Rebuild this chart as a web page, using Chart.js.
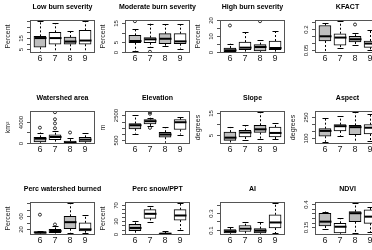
<!DOCTYPE html>
<html>
<head>
<meta charset="utf-8">
<script src="https://cdn.jsdelivr.net/npm/chart.js@4"></script>
<style>
  body { margin: 0; width: 372px; height: 250px; overflow: hidden; background: #fff; position: relative; }
  canvas { position: absolute; }
</style>
</head>
<body>
<script>
// ----- Data: [lower whisker, Q1, median, Q3, upper whisker] per year -----
const years = [6, 7, 8, 9];

const lowBurn     = [[2.8, 6.8, 15, 16.5, 30], [2.8, 9.5, 15, 20.1, 28], [2.8, 9.5, 11.9, 15.9, 21], [2.8, 9.5, 12.8, 21.9, 30]];
const lowBurnOut  = [[], [], [], []];
const modBurn     = [[0.4, 4.8, 5.7, 8.7, 12.2], [2.5, 4.8, 6.6, 7.5, 14.8], [2.9, 4.3, 6.9, 9.6, 14.5], [1.7, 4.3, 5.5, 9.6, 14.5]];
const modBurnOut  = [[16.2], [0], [], []];
const highBurn    = [[0, 0, 0.9, 2.4, 5.1], [0, 1.4, 2.6, 6.1, 12.4], [0, 0.5, 3, 4.5, 7.2], [0, 1.4, 2.4, 6.8, 13.4]];
const highBurnOut = [[16.6], [], [19.3], []];
const kfact       = [[0.038, 0.114, 0.147, 0.223, 0.239], [0.062, 0.085, 0.138, 0.165, 0.253], [0.085, 0.107, 0.126, 0.147, 0.17], [0.05, 0.069, 0.096, 0.114, 0.188]];
const kfactOut    = [[], [], [0.23], []];

const area        = [[0, 184, 790, 1030, 1950], [0, 600, 1100, 1530, 2260], [0, 0, 55, 300, 920], [0, 184, 600, 1030, 1840]];
const areaOut     = [[2870], [2760, 3680, 4470, 5810], [1950], []];
const elev        = [[1053, 1424, 1710, 1843, 2500], [1630, 1819, 2025, 2159, 2293], [318, 761, 974, 1156, 1551], [974, 1369, 1946, 2159, 2340]];
const elevOut     = [[], [2740, 2620, 1500], [], []];
const slope       = [[1.2, 2.3, 3.6, 6.2, 8.6], [2.3, 3.9, 6, 7, 9.4], [2.8, 6, 7.5, 9.4, 15.5], [3, 3.9, 5.8, 8.6, 10.5]];
const slopeOut    = [[], [], [], []];
const aspect      = [[71, 111, 149, 165, 243], [115, 149, 183, 194, 255], [64, 122, 176, 189, 283], [80, 127, 172, 194, 270]];
const aspectOut   = [[], [], [], []];

const burned      = [[6.5, 8, 10, 13, 14], [7, 10, 15, 20, 30], [8, 22, 42, 60, 100], [10, 15, 20, 40, 65]];
const burnedOut   = [[65], [35], [], []];
const snow        = [[0, 7.3, 14, 22.6, 31], [29, 37, 48, 58, 66.7], [0, 0, 0.3, 1.3, 7.3], [10, 33, 44, 58, 73.5]];
const snowOut     = [[], [], [], []];
const ai          = [[0.05, 0.06, 0.08, 0.1, 0.128], [0.052, 0.08, 0.112, 0.148, 0.187], [0.05, 0.06, 0.088, 0.112, 0.187], [0.06, 0.12, 0.187, 0.28, 0.42]];
const aiOut       = [[], [], [], []];
const ndvi        = [[0.128, 0.164, 0.211, 0.302, 0.32], [0.08, 0.09, 0.156, 0.193, 0.248], [0.085, 0.21, 0.302, 0.32, 0.41], [0.1, 0.193, 0.265, 0.338, 0.37]];
const ndviOut     = [[], [], [], []];

const panels = [
  { title: 'Low burn severity',      ylab: 'Percent', stats: lowBurn,  out: lowBurnOut,  ticks: [5, 10, 15, 20, 25, 30], labels: [5, 15] },
  { title: 'Moderate burn severity', ylab: 'Percent', stats: modBurn,  out: modBurnOut,  ticks: [0, 5, 10, 15], labels: [0, 5, 15] },
  { title: 'High burn severity',     ylab: 'Percent', stats: highBurn, out: highBurnOut, ticks: [0, 5, 10, 15, 20], labels: [0, 10, 20] },
  { title: 'KFACT',                  ylab: '',        stats: kfact,    out: kfactOut,    ticks: [0.05, 0.1, 0.15, 0.2, 0.25], labels: [0.05, 0.2] },
  { title: 'Watershed area',         ylab: 'km²',     stats: area,     out: areaOut,     ticks: [0, 2000, 4000], labels: [0, 4000] },
  { title: 'Elevation',              ylab: 'm',       stats: elev,     out: elevOut,     ticks: [500, 1000, 1500, 2000, 2500], labels: [500, 2500] },
  { title: 'Slope',                  ylab: 'degrees', stats: slope,    out: slopeOut,    ticks: [5, 10, 15], labels: [5, 15] },
  { title: 'Aspect',                 ylab: 'degrees', stats: aspect,   out: aspectOut,   ticks: [100, 150, 200, 250], labels: [100, 250] },
  { title: 'Perc watershed burned',  ylab: 'Percent', stats: burned,   out: burnedOut,   ticks: [20, 40, 60, 80, 100], labels: [20, 60] },
  { title: 'Perc snow/PPT',          ylab: 'Percent', stats: snow,     out: snowOut,     ticks: [0, 10, 20, 30, 40, 50, 60, 70], labels: [0, 30, 70] },
  { title: 'AI',                     ylab: '',        stats: ai,       out: aiOut,       ticks: [0.1, 0.2, 0.3, 0.4], labels: [0.1, 0.3] },
  { title: 'NDVI',                   ylab: '',        stats: ndvi,     out: ndviOut,     ticks: [0.15, 0.2, 0.25, 0.3, 0.35, 0.4], labels: [0.15, 0.4] }
];
const fills = ['#bebebe', '#ffffff', '#bebebe', '#ffffff'];

Chart.defaults.font.family = '"Liberation Sans", Arial, sans-serif';

const fmt = v => (Math.abs(v) < 1 && v !== 0) ? (String(v).split('.')[1].length < 2 ? v.toFixed(1) : v.toFixed(2)) : String(v);

// R-style boxplot extras: whiskers, medians, frame, axes, titles
const rbox = {
  id: 'rbox',
  afterDatasetsDraw(chart, args, o) {
    const p = o.panel;
    const { ctx, chartArea: a, scales: { x, y } } = chart;
    const line = (x1, y1, x2, y2) => { ctx.beginPath(); ctx.moveTo(x1, y1); ctx.lineTo(x2, y2); ctx.stroke(); };
    ctx.save();
    ctx.strokeStyle = '#000';
    p.stats.forEach((s, i) => {
      const cx = Math.round(x.getPixelForValue(i + 1)) + 0.5;
      const [lo, q1, med, q3, hi] = s.map(v => y.getPixelForValue(v));
      ctx.lineWidth = 1;
      ctx.setLineDash([2, 2]);
      line(cx, q1, cx, lo);
      line(cx, q3, cx, hi);
      ctx.setLineDash([]);
      line(cx - 3, Math.round(lo) + 0.5, cx + 3, Math.round(lo) + 0.5);
      line(cx - 3, Math.round(hi) + 0.5, cx + 3, Math.round(hi) + 0.5);
      ctx.lineWidth = 2;
      line(cx - 6, med, cx + 6, med);
    });
    // frame
    ctx.lineWidth = 1;
    ctx.strokeStyle = '#555';
    ctx.strokeRect(a.left + 0.5, a.top + 0.5, a.right - a.left - 1, a.bottom - a.top - 1);
    // y ticks and labels
    ctx.fillStyle = '#222';
    ctx.font = '6px "Liberation Sans", Arial, sans-serif';
    ctx.textAlign = 'center';
    ctx.textBaseline = 'middle';
    p.ticks.forEach(t => {
      const ty = Math.round(y.getPixelForValue(t)) + 0.5;
      line(a.left - 3, ty, a.left, ty);
      if (p.labels.includes(t)) {
        ctx.save();
        ctx.translate(a.left - 9, ty);
        ctx.rotate(-Math.PI / 2);
        ctx.fillText(fmt(t), 0, 0);
        ctx.restore();
      }
    });
    // x labels
    ctx.font = '9px "Liberation Sans", Arial, sans-serif';
    years.forEach((yr, i) => ctx.fillText(String(yr), x.getPixelForValue(i + 1), a.bottom + 6));
    // title
    ctx.fillStyle = '#000';
    ctx.font = 'bold 7px "Liberation Sans", Arial, sans-serif';
    ctx.fillText(p.title, (a.left + a.right) / 2, a.top - 13);
    // y axis title
    if (p.ylab) {
      ctx.fillStyle = '#222';
      ctx.font = '7px "Liberation Sans", Arial, sans-serif';
      ctx.save();
      ctx.translate(a.left - 22, (a.top + a.bottom) / 2);
      ctx.rotate(-Math.PI / 2);
      ctx.fillText(p.ylab, 0, 0);
      ctx.restore();
    }
    ctx.restore();
  }
};

panels.forEach((p, k) => {
  const col = k % 4, row = Math.floor(k / 4);
  const cv = document.createElement('canvas');
  cv.width = 150; cv.height = 91;
  cv.style.left = (col * 95 - 28) + 'px';
  cv.style.top = (row * 91) + 'px';
  document.body.appendChild(cv);

  const all = p.stats.flat().concat(p.out.flat());
  const lo = Math.min(...all), hi = Math.max(...all), pad = (hi - lo) * 0.04;

  new Chart(cv, {
    type: 'bar',
    data: {
      datasets: [
        {
          data: p.stats.map((s, i) => ({ x: i + 1, y: [s[1], s[3]] })),
          backgroundColor: fills,
          borderColor: '#000',
          borderWidth: 1,
          borderSkipped: false,
          barThickness: 12
        },
        {
          type: 'scatter',
          data: p.out.flatMap((arr, i) => arr.map(v => ({ x: i + 1, y: v }))),
          pointStyle: 'circle',
          pointRadius: 1.5,
          backgroundColor: 'rgba(0,0,0,0)',
          borderColor: '#000',
          borderWidth: 0.8
        }
      ]
    },
    options: {
      responsive: false,
      animation: false,
      events: [],
      layout: { padding: { left: 58, top: 20, right: 27, bottom: 38 } },
      plugins: { legend: { display: false }, tooltip: { enabled: false }, rbox: { panel: p } },
      scales: {
        x: { type: 'linear', offset: false, min: 0.34, max: 4.66, display: false },
        y: { min: lo - pad, max: hi + pad, display: false }
      }
    },
    plugins: [rbox]
  });
});
</script>
</body>
</html>
